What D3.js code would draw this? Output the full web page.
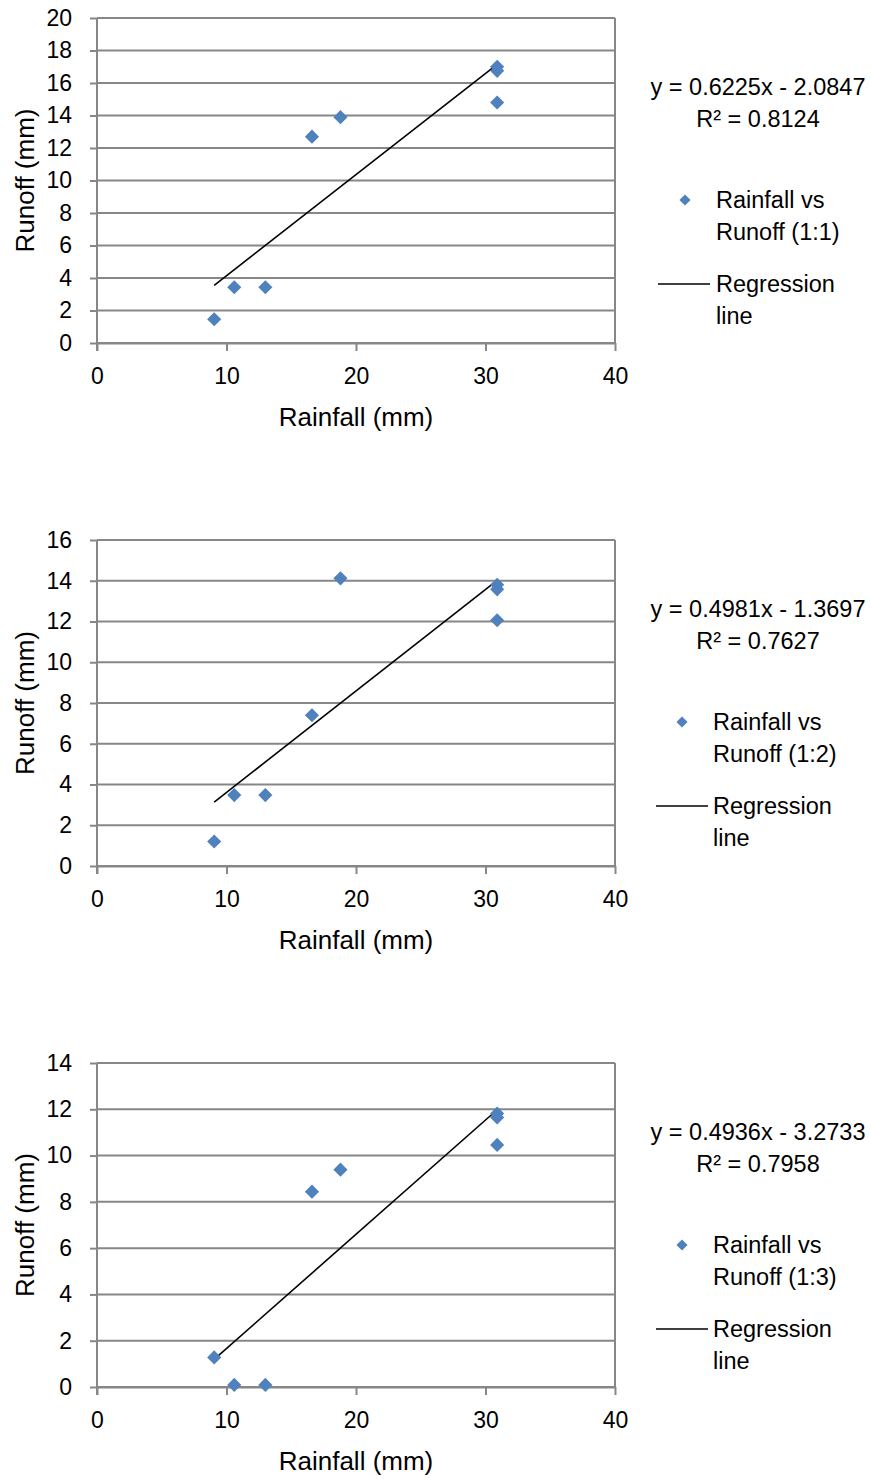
<!DOCTYPE html>
<html>
<head>
<meta charset="utf-8">
<script src="https://cdn.jsdelivr.net/npm/d3@7"></script>
<style>
  html, body { margin: 0; padding: 0; background: #fff; }
  svg { display: block; }
  text { font-family: "Liberation Sans", Arial, sans-serif; fill: #000; }
</style>
</head>
<body>
<script>
// ---- data ----
const rainfall = [9.05, 10.6, 13.0, 16.6, 18.8, 30.9, 30.9, 30.9];
const runoff11 = [1.46, 3.43, 3.43, 12.7, 13.9, 17.0, 16.75, 14.8];
const runoff12 = [1.2, 3.48, 3.48, 7.4, 14.12, 13.8, 13.58, 12.06];
const runoff13 = [1.28, 0.09, 0.09, 8.44, 9.39, 11.82, 11.65, 10.46];
const seriesNames = ["Rainfall vs Runoff (1:1)", "Rainfall vs Runoff (1:2)", "Rainfall vs Runoff (1:3)"];
const slopes = [0.6225, 0.4981, 0.4936];
const intercepts = [-2.0847, -1.3697, -3.2733];
const equations = ["y = 0.6225x - 2.0847", "y = 0.4981x - 1.3697", "y = 0.4936x - 3.2733"];
const r2Labels = ["R\u00B2 = 0.8124", "R\u00B2 = 0.7627", "R\u00B2 = 0.7958"];
const yMaxes = [20, 16, 14];
const xTicks = [0, 10, 20, 30, 40];
const xTitle = "Rainfall (mm)";
const yTitle = "Runoff (mm)";
const legendLine1 = ["Rainfall vs", "Rainfall vs", "Rainfall vs"];
const legendLine2 = ["Runoff (1:1)", "Runoff (1:2)", "Runoff (1:3)"];
const regLabel1 = "Regression";
const regLabel2 = "line";

const runoffSets = [runoff11, runoff12, runoff13];

// ---- layout ----
const W = 871, H = 1479;
const plotLeft = 97, plotRight = 615;
const panelTops = [18, 540, 1063];
const panelBottoms = [343, 866, 1387];
const legendTextX = [716, 713, 713];
const legendSymX = [685, 682, 682];
const legendLineX = [[658, 710], [656, 708], [656, 708]];
const eqX = [758, 758, 758];
const gridColor = "#878787";
const markColor = "#4F81BD";

const svg = d3.select("body").append("svg").attr("width", W).attr("height", H);

const diamond = d3.symbol().type(d3.symbolSquare).size(100);
const diamondSmall = d3.symbol().type(d3.symbolSquare).size(62);

runoffSets.forEach((runoff, i) => {
  const top = panelTops[i], bottom = panelBottoms[i];
  const x = d3.scaleLinear().domain([0, 40]).range([plotLeft, plotRight]);
  const y = d3.scaleLinear().domain([0, yMaxes[i]]).range([bottom, top]);
  const g = svg.append("g");

  const yTickVals = d3.range(0, yMaxes[i] + 1, 2);

  // gridlines
  g.append("g").selectAll("line").data(yTickVals).join("line")
    .attr("x1", plotLeft).attr("x2", plotRight)
    .attr("y1", d => y(d)).attr("y2", d => y(d))
    .attr("stroke", gridColor).attr("stroke-width", 2);

  // right border
  g.append("line")
    .attr("x1", plotRight).attr("x2", plotRight)
    .attr("y1", top).attr("y2", bottom + 1)
    .attr("stroke", gridColor).attr("stroke-width", 2);

  // y axis
  const yAxis = g.append("g").attr("transform", `translate(${plotLeft},0)`)
    .call(d3.axisLeft(y).tickValues(yTickVals).tickSize(7).tickSizeOuter(0).tickPadding(18));
  yAxis.select(".domain").attr("stroke", gridColor).attr("stroke-width", 2)
    .attr("d", `M0,${top}V${bottom + 8}`);
  yAxis.selectAll(".tick line").attr("stroke", gridColor).attr("stroke-width", 2);
  yAxis.selectAll(".tick text").attr("font-size", 23).attr("fill", "#000")
    .attr("font-family", "Liberation Sans, Arial, sans-serif");

  // x axis
  const xAxis = g.append("g").attr("transform", `translate(0,${bottom})`)
    .call(d3.axisBottom(x).tickValues(xTicks).tickSize(8).tickSizeOuter(0).tickPadding(17));
  xAxis.select(".domain").attr("stroke", gridColor).attr("stroke-width", 2);
  xAxis.selectAll(".tick line").attr("stroke", gridColor).attr("stroke-width", 2);
  xAxis.selectAll(".tick text").attr("font-size", 23).attr("fill", "#000")
    .attr("font-family", "Liberation Sans, Arial, sans-serif");

  // regression line
  const xmin = d3.min(rainfall), xmax = d3.max(rainfall);
  const line = d3.line().x(d => x(d)).y(d => y(slopes[i] * d + intercepts[i]));
  g.append("path").datum([xmin, xmax]).attr("d", line)
    .attr("stroke", "#000").attr("stroke-width", 1.6).attr("fill", "none");

  // points
  g.append("g").selectAll("path").data(rainfall.map((r, k) => [r, runoff[k]])).join("path")
    .attr("d", diamond)
    .attr("transform", d => `translate(${x(d[0])},${y(d[1])}) rotate(45)`)
    .attr("fill", markColor);

  // axis titles
  g.append("text").attr("x", (plotLeft + plotRight) / 2).attr("y", bottom + 74)
    .attr("text-anchor", "middle").attr("dominant-baseline", "central")
    .attr("font-size", 26).text(xTitle);
  g.append("text")
    .attr("transform", `translate(25,${(top + bottom) / 2}) rotate(-90)`)
    .attr("text-anchor", "middle").attr("dominant-baseline", "central")
    .attr("font-size", 26).text(yTitle);

  // equation
  g.append("text").attr("x", eqX[i]).attr("y", top + 69)
    .attr("text-anchor", "middle").attr("dominant-baseline", "central")
    .attr("font-size", 23.5).text(equations[i]);
  g.append("text").attr("x", eqX[i]).attr("y", top + 101)
    .attr("text-anchor", "middle").attr("dominant-baseline", "central")
    .attr("font-size", 23.5).text(r2Labels[i]);

  // legend
  g.append("path").attr("d", diamondSmall)
    .attr("transform", `translate(${legendSymX[i]},${top + 182}) rotate(45)`)
    .attr("fill", markColor);
  g.append("text").attr("x", legendTextX[i]).attr("y", top + 182)
    .attr("dominant-baseline", "central").attr("font-size", 23.5).text(legendLine1[i]);
  g.append("text").attr("x", legendTextX[i]).attr("y", top + 214)
    .attr("dominant-baseline", "central").attr("font-size", 23.5).text(legendLine2[i]);
  g.append("line").attr("x1", legendLineX[i][0]).attr("x2", legendLineX[i][1])
    .attr("y1", top + 266).attr("y2", top + 266)
    .attr("stroke", "#000").attr("stroke-width", 1.6);
  g.append("text").attr("x", legendTextX[i]).attr("y", top + 266)
    .attr("dominant-baseline", "central").attr("font-size", 23.5).text(regLabel1);
  g.append("text").attr("x", legendTextX[i]).attr("y", top + 298)
    .attr("dominant-baseline", "central").attr("font-size", 23.5).text(regLabel2);
});
</script>
</body>
</html>
